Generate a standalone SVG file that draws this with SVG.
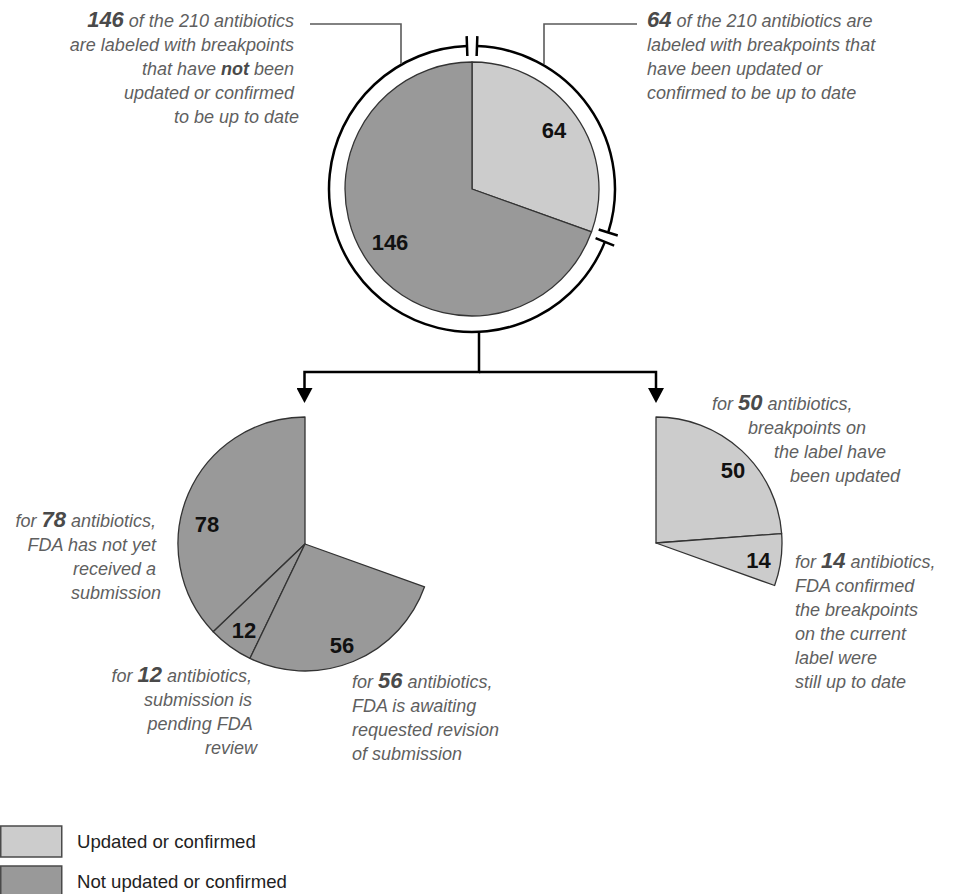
<svg xmlns="http://www.w3.org/2000/svg" width="956" height="894" viewBox="0 0 956 894">
<defs>
<style>
.lt{fill:#cccccc;stroke:#333333;stroke-width:1.3;stroke-linejoin:round}
.dk{fill:#999999;stroke:#333333;stroke-width:1.3;stroke-linejoin:round}
.ring{fill:none;stroke:#000000;stroke-width:2.5}
.conn{fill:none;stroke:#000000;stroke-width:2.5}
.lead{fill:none;stroke:#5a5a5a;stroke-width:1.6}
.lab{font-family:"Liberation Sans",Arial,sans-serif;font-style:italic;font-size:18px;fill:#5f5f5f}
.num{font-weight:bold;font-size:22px;fill:#4a4a4a}
.b{font-weight:bold;fill:#4a4a4a}
.pl{font-family:"Liberation Sans",Arial,sans-serif;font-weight:bold;font-size:22px;fill:#111111;text-anchor:middle}
.leg{font-family:"Liberation Sans",Arial,sans-serif;font-size:18.6px;fill:#222222}
.lbox{stroke:#4a4a4a;stroke-width:1.5}
</style>
<marker id="ah" viewBox="0 0 16 16" refX="0" refY="8" markerWidth="16" markerHeight="16" markerUnits="userSpaceOnUse" orient="auto">
<path d="M0,0 L15,8 L0,16 Z" fill="#000000"/>
</marker>
</defs>

<g id="top-pie">
<path class="lt" d="M472,189 L472,62 A127,127 0 0 1 591.57,231.81 Z"/>
<path class="dk" d="M472,189 L591.57,231.81 A127,127 0 1 1 472,62 Z"/>
<text class="pl" x="554" y="138">64</text>
<text class="pl" x="390" y="250">146</text>
</g>

<g id="ring">
<path class="ring" d="M476.99,46.09 A143,143 0 0 1 608.23,232.48"/>
<path class="ring" d="M604.87,241.87 A143,143 0 1 1 467.01,46.09"/>
<path class="ring" d="M476.64,56.08 L477.34,36.09 M467.36,56.08 L466.66,36.09 M598.70,229.44 L617.76,235.52 M595.57,238.18 L614.16,245.57"/>
</g>

<g id="connectors">
<path class="lead" d="M310,24 H401 V64"/>
<path class="lead" d="M637,24 H544 V64"/>
<path class="conn" d="M479,331 V372 H304.5 V388" marker-end="url(#ah)"/>
<path class="conn" d="M479,372 H656 V388" marker-end="url(#ah)"/>
</g>

<g id="label-146">
<text class="lab" text-anchor="end">
<tspan x="299" y="27"><tspan class="num">146</tspan> of the 210 antibiotics</tspan>
<tspan x="299" y="51">are labeled with breakpoints</tspan>
<tspan x="299" y="75">that have <tspan class="b">not</tspan> been</tspan>
<tspan x="299" y="99">updated or confirmed</tspan>
<tspan x="299" y="123">to be up to date</tspan>
</text>
</g>

<g id="label-64">
<text class="lab">
<tspan x="647" y="27"><tspan class="num">64</tspan> of the 210 antibiotics are</tspan>
<tspan x="647" y="51">labeled with breakpoints that</tspan>
<tspan x="647" y="75">have been updated or</tspan>
<tspan x="647" y="99">confirmed to be up to date</tspan>
</text>
</g>

<g id="left-pie">
<path class="dk" d="M305,544 L305,417 A127,127 0 0 0 213.21,631.77 Z"/>
<path class="dk" d="M305,544 L213.21,631.77 A127,127 0 0 0 249.90,658.42 Z"/>
<path class="dk" d="M305,544 L249.90,658.42 A127,127 0 0 0 424.56,586.83 Z"/>
<text class="pl" x="207" y="532">78</text>
<text class="pl" x="244" y="638">12</text>
<text class="pl" x="342" y="653">56</text>
</g>

<g id="label-78">
<text class="lab" text-anchor="end">
<tspan x="161" y="527">for <tspan class="num">78</tspan> antibiotics,</tspan>
<tspan x="161" y="551">FDA has not yet</tspan>
<tspan x="161" y="575">received a</tspan>
<tspan x="161" y="599">submission</tspan>
</text>
</g>

<g id="label-12">
<text class="lab" text-anchor="end">
<tspan x="257" y="682">for <tspan class="num">12</tspan> antibiotics,</tspan>
<tspan x="257" y="706">submission is</tspan>
<tspan x="257" y="730">pending FDA</tspan>
<tspan x="257" y="754">review</tspan>
</text>
</g>

<g id="label-56">
<text class="lab">
<tspan x="352" y="688">for <tspan class="num">56</tspan> antibiotics,</tspan>
<tspan x="352" y="712">FDA is awaiting</tspan>
<tspan x="352" y="736">requested revision</tspan>
<tspan x="352" y="760">of submission</tspan>
</text>
</g>

<g id="right-pie">
<path class="lt" d="M656,543 L656,417 A126,126 0 0 1 781.65,533.58 Z"/>
<path class="lt" d="M656,543 L781.65,533.58 A126,126 0 0 1 774.61,585.50 Z"/>
<text class="pl" x="733" y="478">50</text>
<text class="pl" x="758.5" y="568">14</text>
</g>

<g id="label-50">
<text class="lab">
<tspan x="712" y="410">for <tspan class="num">50</tspan> antibiotics,</tspan>
<tspan x="748" y="434">breakpoints on</tspan>
<tspan x="774" y="458">the label have</tspan>
<tspan x="790" y="482">been updated</tspan>
</text>
</g>

<g id="label-14">
<text class="lab">
<tspan x="795" y="568">for <tspan class="num">14</tspan> antibiotics,</tspan>
<tspan x="795" y="592">FDA confirmed</tspan>
<tspan x="795" y="616">the breakpoints</tspan>
<tspan x="795" y="640">on the current</tspan>
<tspan x="795" y="664">label were</tspan>
<tspan x="795" y="688">still up to date</tspan>
</text>
</g>

<g id="legend">
<rect class="lbox" x="0.75" y="826" width="61" height="31" fill="#cccccc"/>
<rect class="lbox" x="0.75" y="866" width="61" height="31" fill="#999999"/>
<text class="leg" x="77" y="848">Updated or confirmed</text>
<text class="leg" x="77" y="888">Not updated or confirmed</text>
</g>
</svg>
